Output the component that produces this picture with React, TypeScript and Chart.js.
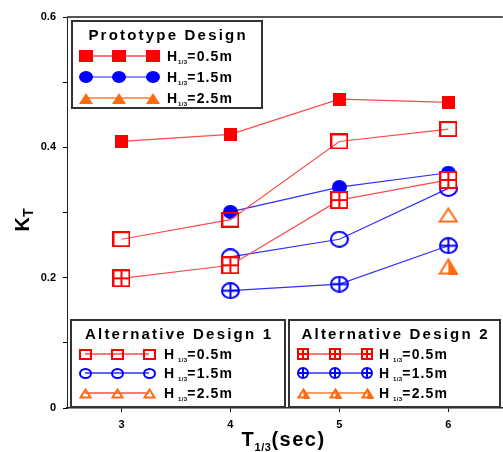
import React, { useEffect, useRef } from 'react';
import { Chart, registerables } from 'chart.js';
Chart.register(...registerables);

// ---------- data ----------
const periods = [3, 4, 5, 6];
const protoH05 = [0.409, 0.42, 0.474, 0.469];
const protoH15 = [null, 0.301, 0.339, 0.361];
const alt1H05 = [0.259, 0.289, 0.409, 0.428];
const alt1H15 = [null, 0.232, 0.259, 0.337];
const alt1H25 = [null, null, null, 0.296];
const alt2H05 = [0.199, 0.219, 0.319, 0.35];
const alt2H15 = [null, 0.18, 0.19, 0.249];
const alt2H25 = [null, null, null, 0.217];
const xTickValues = [3, 4, 5, 6];
const waveLabels = ['=0.5m', '=1.5m', '=2.5m'];
const legendTitles = ['Prototype Design', 'Alternative Design 1', 'Alternative Design 2'];

const FONT = '"Liberation Sans", Arial, sans-serif';
const RED = '#ff0000';
const RED_LINE = '#ff4a4a';
const BLUE = '#0000ff';
const BLUE_LINE = '#3030ff';
const BLUE_LIGHT = '#6a6aff';
const ORANGE = '#ff6a10';
const ORANGE_LINE = '#ff7a30';

type Kind = 'fsq' | 'osq' | 'xsq' | 'fci' | 'oci' | 'xci' | 'ftr' | 'otr' | 'htr';

function marker(kind: Kind, color: string, w: number, h: number): HTMLCanvasElement {
  const c = document.createElement('canvas');
  c.width = w;
  c.height = h;
  const g = c.getContext('2d')!;
  g.fillStyle = color;
  g.strokeStyle = color;
  g.lineWidth = 2;
  const tri = (inset: number) => {
    g.beginPath();
    g.moveTo(w / 2, inset);
    g.lineTo(w - inset, h - inset);
    g.lineTo(inset, h - inset);
    g.closePath();
  };
  switch (kind) {
    case 'fsq':
      g.fillRect(0, 0, w, h);
      break;
    case 'osq':
      g.strokeRect(1, 1, w - 2, h - 2);
      break;
    case 'xsq': {
      g.fillRect(0, 0, w, h);
      const b = 2, cr = 2;
      const ww = (w - 2 * b - cr) / 2;
      const wh = (h - 2 * b - cr) / 2;
      g.fillStyle = '#ffffff';
      g.fillRect(b, b, ww, wh);
      g.fillRect(b + ww + cr, b, ww, wh);
      g.fillRect(b, b + wh + cr, ww, wh);
      g.fillRect(b + ww + cr, b + wh + cr, ww, wh);
      break;
    }
    case 'fci':
      g.beginPath();
      g.ellipse(w / 2, h / 2, w / 2, h / 2, 0, 0, Math.PI * 2);
      g.fill();
      break;
    case 'oci':
    case 'xci':
      g.beginPath();
      g.ellipse(w / 2, h / 2, w / 2 - 1, h / 2 - 1, 0, 0, Math.PI * 2);
      g.stroke();
      if (kind === 'xci') {
        g.beginPath();
        g.moveTo(w / 2, 1);
        g.lineTo(w / 2, h - 1);
        g.moveTo(1, h / 2);
        g.lineTo(w - 1, h / 2);
        g.stroke();
      }
      break;
    case 'ftr':
      tri(0);
      g.fill();
      break;
    case 'otr':
      tri(1.5);
      g.stroke();
      break;
    case 'htr':
      tri(1.5);
      g.stroke();
      g.beginPath();
      g.moveTo(w / 2, 0);
      g.lineTo(w, h);
      g.lineTo(w / 2, h);
      g.closePath();
      g.fill();
      break;
  }
  return c;
}

type Part = { t: string; size: number; dy?: number; sp?: number };

function partsWidth(ctx: CanvasRenderingContext2D, parts: Part[]) {
  let w = 0;
  for (const p of parts) {
    ctx.font = `bold ${p.size}px ${FONT}`;
    for (const ch of p.t) w += ctx.measureText(ch).width + (p.sp || 0);
  }
  return w;
}

function drawParts(ctx: CanvasRenderingContext2D, parts: Part[], x: number, y: number) {
  let cx = x;
  ctx.textAlign = 'left';
  ctx.textBaseline = 'alphabetic';
  for (const p of parts) {
    ctx.font = `bold ${p.size}px ${FONT}`;
    for (const ch of p.t) {
      ctx.fillText(ch, cx, y + (p.dy || 0));
      cx += ctx.measureText(ch).width + (p.sp || 0);
    }
  }
}

function toPoints(vals: (number | null)[]) {
  const out: { x: number; y: number }[] = [];
  vals.forEach((v, i) => {
    if (v !== null) out.push({ x: periods[i], y: v });
  });
  return out;
}

export default function App() {
  const ref = useRef<HTMLCanvasElement>(null);

  useEffect(() => {
    document.body.style.margin = '0';
    const canvas = ref.current!;

    const M = {
      fsq: marker('fsq', RED, 13, 13),
      osq: marker('osq', RED, 18, 16),
      xsq: marker('xsq', RED, 18, 18),
      fci: marker('fci', BLUE, 15, 14),
      oci: marker('oci', BLUE, 19, 17),
      xci: marker('xci', BLUE, 19, 17),
      otr: marker('otr', ORANGE, 20, 16),
      htr: marker('htr', ORANGE, 20, 17),
    };
    const L = {
      fsq: marker('fsq', RED, 14, 12),
      fci: marker('fci', BLUE, 14, 12),
      ftr: marker('ftr', ORANGE, 14, 11),
      osq: marker('osq', RED, 13, 11),
      oci: marker('oci', BLUE, 13, 11),
      otr: marker('otr', ORANGE, 13, 11),
      xsq: marker('xsq', RED, 12, 12),
      xci: marker('xci', BLUE, 12, 12),
      htr: marker('htr', ORANGE, 13, 11),
    };

    const ds = (label: string, vals: (number | null)[], img: HTMLCanvasElement, line: string) => ({
      label,
      data: toPoints(vals),
      borderColor: line,
      backgroundColor: line,
      borderWidth: 1.2,
      pointStyle: img,
      pointRadius: 8,
      pointHoverRadius: 8,
      showLine: true,
      tension: 0,
      fill: false,
    });

    const legends = [
      {
        box: [72, 21, 190, 87],
        titleY: 40,
        rows: [56, 77, 98],
        mx: [86, 119, 153],
        tx: 167,
        items: [
          { img: L.fsq, line: RED_LINE },
          { img: L.fci, line: BLUE_LIGHT },
          { img: L.ftr, line: ORANGE_LINE },
        ],
        title: legendTitles[0],
        gap: 0,
      },
      {
        box: [71, 320, 214, 87],
        titleY: 339,
        rows: [354, 373, 393],
        mx: [85, 117, 149],
        tx: 164,
        items: [
          { img: L.osq, line: RED_LINE },
          { img: L.oci, line: BLUE_LINE },
          { img: L.otr, line: RED_LINE },
        ],
        title: legendTitles[1],
        gap: 3,
      },
      {
        box: [289, 320, 211, 87],
        titleY: 339,
        rows: [354, 373, 393],
        mx: [303, 335, 367],
        tx: 379,
        items: [
          { img: L.xsq, line: RED_LINE },
          { img: L.xci, line: BLUE_LINE },
          { img: L.htr, line: ORANGE_LINE },
        ],
        title: legendTitles[2],
        gap: 3,
      },
    ];

    const decor = {
      id: 'decor',
      beforeDraw(chart: any) {
        const ctx = chart.ctx as CanvasRenderingContext2D;
        ctx.save();
        ctx.fillStyle = '#ffffff';
        ctx.fillRect(0, 0, chart.width, chart.height);
        ctx.restore();
      },
      afterDraw(chart: any) {
        const ctx = chart.ctx as CanvasRenderingContext2D;
        const a = chart.chartArea;
        ctx.save();
        // top frame
        ctx.strokeStyle = '#555';
        ctx.lineWidth = 2;
        ctx.beginPath();
        ctx.moveTo(a.left, a.top);
        ctx.lineTo(a.right, a.top);
        ctx.stroke();

        // legends
        for (const lg of legends) {
          const [bx, by, bw, bh] = lg.box;
          ctx.fillStyle = '#ffffff';
          ctx.fillRect(bx, by, bw, bh);
          ctx.strokeStyle = '#333';
          ctx.lineWidth = 2;
          ctx.strokeRect(bx, by, bw, bh);
          ctx.fillStyle = '#000';
          const tParts: Part[] = [{ t: lg.title, size: 15, sp: 2.2 }];
          const tw = partsWidth(ctx, tParts) - 2.2;
          drawParts(ctx, tParts, bx + bw / 2 - tw / 2, lg.titleY);
          lg.items.forEach((it, i) => {
            const y = lg.rows[i];
            ctx.strokeStyle = it.line;
            ctx.lineWidth = 1.3;
            ctx.beginPath();
            ctx.moveTo(lg.mx[0], y);
            ctx.lineTo(lg.mx[2], y);
            ctx.stroke();
            for (const x of lg.mx) {
              ctx.drawImage(it.img, Math.round(x - it.img.width / 2), Math.round(y - it.img.height / 2));
            }
            ctx.fillStyle = '#000';
            drawParts(
              ctx,
              [
                { t: 'H', size: 14, sp: 1 + lg.gap },
                { t: '1/3', size: 6, dy: 3, sp: 0.3 },
                { t: waveLabels[i], size: 14, sp: 1.1 },
              ],
              lg.tx,
              y + 5
            );
          });
        }

        // x title
        ctx.fillStyle = '#000';
        const xParts: Part[] = [
          { t: 'T', size: 20, sp: 1 },
          { t: '1/3', size: 11, dy: 5, sp: 0.5 },
          { t: '(sec)', size: 20, sp: 1.5 },
        ];
        const xw = partsWidth(ctx, xParts);
        drawParts(ctx, xParts, (a.left + 500) / 2 - xw / 2, 446);

        // y title
        ctx.save();
        ctx.translate(29, 220);
        ctx.rotate(-Math.PI / 2);
        const yParts: Part[] = [
          { t: 'K', size: 20, sp: 0 },
          { t: 'T', size: 14, dy: 4, sp: 0 },
        ];
        const yw = partsWidth(ctx, yParts);
        drawParts(ctx, yParts, -yw / 2, 0);
        ctx.restore();
        ctx.restore();
      },
    };

    const chart = new Chart(canvas, {
      type: 'scatter',
      data: {
        datasets: [
          ds('Alt2 H=2.5m', alt2H25, M.htr, ORANGE_LINE),
          ds('Alt2 H=1.5m', alt2H15, M.xci, BLUE_LINE),
          ds('Alt2 H=0.5m', alt2H05, M.xsq, RED_LINE),
          ds('Alt1 H=2.5m', alt1H25, M.otr, RED_LINE),
          ds('Alt1 H=1.5m', alt1H15, M.oci, BLUE_LINE),
          ds('Alt1 H=0.5m', alt1H05, M.osq, RED_LINE),
          ds('Proto H=1.5m', protoH15, M.fci, BLUE_LINE),
          ds('Proto H=0.5m', protoH05, M.fsq, RED_LINE),
        ] as any,
      },
      options: {
        animation: false,
        responsive: false,
        devicePixelRatio: 1,
        layout: { padding: { left: 0, top: 17, right: 6, bottom: 0 } },
        plugins: {
          legend: { display: false },
          tooltip: { enabled: false },
          title: { display: false },
        },
        scales: {
          x: {
            type: 'linear',
            min: 2.5,
            max: 6.5,
            afterBuildTicks: (s: any) => {
              s.ticks = xTickValues.map((v) => ({ value: v }));
            },
            afterFit: (s: any) => {
              s.height = 44;
            },
            grid: { drawOnChartArea: false, drawTicks: true, tickLength: 4, color: '#000' },
            border: { color: '#222', width: 1.5 },
            ticks: {
              padding: 6,
              color: '#000',
              font: { family: FONT, size: 11, weight: 'bold' },
              callback: (v: any) => String(v),
            },
          },
          y: {
            type: 'linear',
            min: 0,
            max: 0.6,
            afterFit: (s: any) => {
              s.width = 67;
            },
            grid: { drawOnChartArea: false, drawTicks: true, tickLength: 4, color: '#000' },
            border: { color: '#222', width: 1 },
            ticks: {
              stepSize: 0.1,
              padding: 7,
              color: '#000',
              font: { family: FONT, size: 11, weight: 'bold' },
              callback: (v: any) => {
                const r = Math.round(Number(v) * 10);
                if (r % 2 !== 0) return '';
                return r === 0 ? '0' : (r / 10).toFixed(1);
              },
            },
          },
        },
      } as any,
      plugins: [decor],
    });

    return () => chart.destroy();
  }, []);

  return (
    <div style={{ width: 503, height: 452, overflow: 'hidden', position: 'relative' }}>
      <canvas ref={ref} width={512} height={452} style={{ display: 'block' }} />
    </div>
  );
}
